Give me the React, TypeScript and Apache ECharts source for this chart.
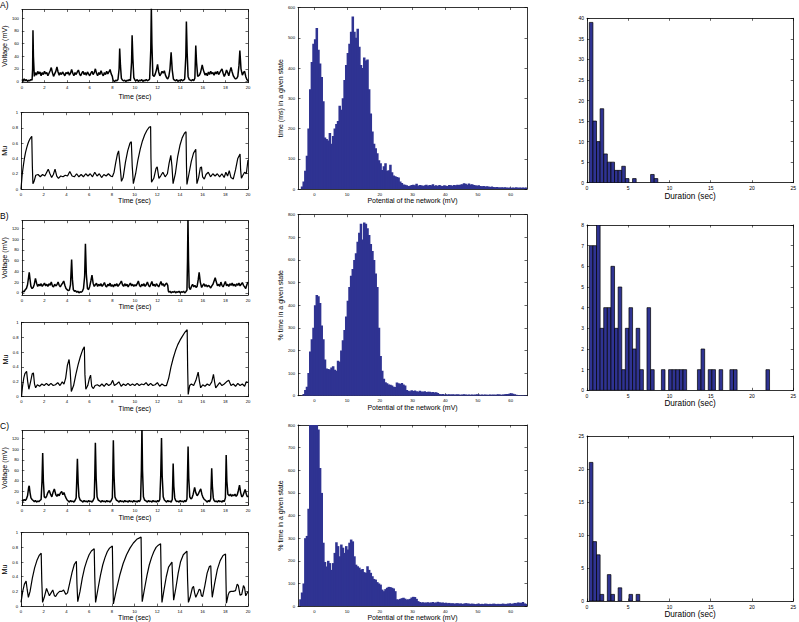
import { useEffect, useRef } from "react";
import * as echarts from "echarts";

// ---------------- DATA ----------------
// Time series: [time (sec), value]
const voltageA: [number, number][] = [
  [0,3],[0.1,1],[0.2,4],[0.3,1],[0.4,3],[0.5,0],[0.6,2],[0.7,1],[0.8,3],[0.9,2],[0.95,20],[0.98,81],[1.02,40],[1.1,8],[1.2,14],[1.3,10],[1.4,16],[1.5,12],[1.6,15],[1.7,9],[1.8,14],[1.9,11],[2.0,16],[2.1,12],[2.2,14],[2.3,9],[2.4,13],[2.5,17],[2.6,22],[2.7,14],[2.8,8],[2.9,12],[3.0,16],[3.1,23],[3.2,15],[3.3,10],[3.4,14],[3.5,11],[3.6,15],[3.7,12],[3.8,9],[3.9,14],[4.0,12],[4.1,15],[4.2,10],[4.3,13],[4.4,19],[4.5,13],[4.6,9],[4.7,14],[4.8,11],[4.9,15],[5.0,18],[5.1,12],[5.2,9],[5.3,13],[5.4,16],[5.5,11],[5.6,14],[5.7,10],[5.8,15],[5.9,12],[6.0,9],[6.1,13],[6.2,16],[6.3,11],[6.4,14],[6.5,20],[6.6,13],[6.7,9],[6.8,14],[6.9,11],[7.0,17],[7.1,12],[7.2,9],[7.3,14],[7.4,11],[7.5,16],[7.6,12],[7.7,15],[7.8,19],[7.9,12],[8.0,8],[8.05,3],[8.1,1],[8.2,0],[8.3,2],[8.4,1],[8.5,3],[8.6,20],[8.65,52],[8.72,25],[8.8,5],[8.9,2],[9.0,1],[9.1,2],[9.2,0],[9.3,2],[9.4,1],[9.5,3],[9.6,1],[9.7,30],[9.75,73],[9.82,35],[9.9,6],[10.0,2],[10.1,1],[10.2,3],[10.3,0],[10.4,2],[10.5,1],[10.6,3],[10.7,0],[10.8,2],[10.9,1],[11.0,3],[11.1,1],[11.2,2],[11.3,4],[11.4,50],[11.45,118],[11.5,60],[11.58,10],[11.7,8],[11.8,12],[11.9,18],[12.0,27],[12.1,15],[12.2,9],[12.3,12],[12.4,16],[12.5,13],[12.6,17],[12.7,10],[12.8,6],[12.9,4],[13.0,8],[13.1,20],[13.2,46],[13.3,18],[13.4,4],[13.5,2],[13.6,1],[13.7,3],[13.8,0],[13.9,2],[14.0,1],[14.1,3],[14.2,1],[14.3,2],[14.4,4],[14.5,40],[14.55,95],[14.62,45],[14.7,8],[14.8,3],[14.9,2],[15.0,1],[15.1,3],[15.2,1],[15.3,5],[15.38,57],[15.45,30],[15.55,8],[15.7,10],[15.8,14],[15.9,22],[15.95,26],[16.05,18],[16.2,10],[16.3,13],[16.4,9],[16.5,15],[16.6,11],[16.7,16],[16.8,12],[16.9,14],[17.0,10],[17.1,15],[17.2,12],[17.3,16],[17.4,11],[17.5,14],[17.6,17],[17.7,20],[17.8,13],[17.9,8],[18.0,12],[18.1,18],[18.2,14],[18.3,9],[18.4,16],[18.5,22],[18.6,15],[18.7,9],[18.8,6],[18.9,4],[19.0,5],[19.1,8],[19.2,25],[19.28,49],[19.38,20],[19.5,10],[19.6,14],[19.7,16],[19.8,8],[19.9,3],[20,1]
];
const muA: [number, number][] = [
  [0,0],[0.1,0.18],[0.2,0.3],[0.3,0.4],[0.4,0.48],[0.5,0.54],[0.6,0.59],[0.7,0.63],[0.8,0.66],[0.95,0.69],[1.0,0.3],[1.05,0.07],[1.15,0.1],[1.3,0.18],[1.5,0.19],[1.7,0.16],[1.9,0.19],[2.1,0.17],[2.2,0.2],[2.4,0.26],[2.55,0.2],[2.7,0.15],[2.85,0.19],[3.0,0.26],[3.15,0.17],[3.3,0.14],[3.5,0.17],[3.7,0.16],[3.9,0.18],[4.1,0.17],[4.3,0.23],[4.5,0.17],[4.7,0.16],[4.9,0.2],[5.1,0.16],[5.3,0.19],[5.5,0.16],[5.7,0.2],[5.9,0.17],[6.1,0.2],[6.3,0.16],[6.5,0.22],[6.7,0.17],[6.9,0.2],[7.1,0.15],[7.3,0.19],[7.5,0.17],[7.7,0.2],[7.9,0.17],[8.05,0.16],[8.2,0.22],[8.35,0.35],[8.5,0.46],[8.6,0.5],[8.7,0.35],[8.85,0.1],[9.0,0.15],[9.2,0.35],[9.4,0.5],[9.6,0.6],[9.72,0.62],[9.8,0.3],[9.9,0.07],[10.1,0.2],[10.3,0.38],[10.5,0.52],[10.7,0.63],[10.9,0.71],[11.1,0.77],[11.3,0.81],[11.42,0.82],[11.45,0.4],[11.5,0.09],[11.7,0.14],[11.9,0.27],[12.0,0.29],[12.15,0.14],[12.3,0.17],[12.5,0.22],[12.7,0.16],[12.9,0.2],[13.05,0.34],[13.2,0.44],[13.3,0.3],[13.4,0.07],[13.6,0.2],[13.8,0.42],[14.0,0.57],[14.2,0.67],[14.4,0.73],[14.54,0.75],[14.58,0.3],[14.62,0.06],[14.8,0.2],[15.0,0.36],[15.2,0.47],[15.4,0.52],[15.45,0.25],[15.5,0.07],[15.65,0.15],[15.8,0.28],[15.9,0.29],[16.0,0.16],[16.15,0.13],[16.3,0.19],[16.5,0.22],[16.7,0.16],[16.9,0.2],[17.1,0.17],[17.3,0.2],[17.5,0.16],[17.7,0.2],[17.9,0.15],[18.05,0.22],[18.2,0.17],[18.35,0.24],[18.5,0.15],[18.7,0.13],[18.9,0.25],[19.1,0.4],[19.3,0.46],[19.35,0.25],[19.42,0.14],[19.55,0.18],[19.7,0.22],[19.85,0.2],[20,0.38]
];
const voltageB: [number, number][] = [
  [0,0],[0.1,3],[0.2,2],[0.3,6],[0.4,8],[0.5,15],[0.6,30],[0.65,38],[0.72,25],[0.8,12],[0.9,8],[1.0,10],[1.1,16],[1.2,27],[1.3,18],[1.4,12],[1.5,16],[1.6,13],[1.7,17],[1.8,12],[1.9,15],[2.0,18],[2.1,13],[2.2,16],[2.3,12],[2.4,17],[2.5,14],[2.6,20],[2.7,13],[2.8,11],[2.9,16],[3.0,13],[3.1,15],[3.2,20],[3.3,14],[3.4,11],[3.5,15],[3.6,18],[3.7,22],[3.8,14],[3.9,8],[4.0,6],[4.1,4],[4.2,5],[4.3,15],[4.4,62],[4.47,25],[4.55,6],[4.65,3],[4.75,4],[4.85,1],[4.95,3],[5.05,0],[5.15,2],[5.25,1],[5.35,3],[5.45,8],[5.55,30],[5.62,91],[5.7,35],[5.8,8],[5.9,6],[6.0,12],[6.1,22],[6.2,33],[6.3,18],[6.4,12],[6.5,15],[6.6,18],[6.7,12],[6.8,16],[6.9,13],[7.0,17],[7.1,12],[7.2,15],[7.3,19],[7.4,13],[7.5,11],[7.6,16],[7.7,13],[7.8,18],[7.9,12],[8.0,15],[8.1,11],[8.2,16],[8.3,13],[8.4,17],[8.5,12],[8.6,15],[8.7,18],[8.8,22],[8.9,15],[9.0,12],[9.1,17],[9.2,13],[9.3,16],[9.4,11],[9.5,15],[9.6,18],[9.7,13],[9.8,16],[9.9,12],[10.0,15],[10.1,13],[10.2,17],[10.3,22],[10.4,14],[10.5,11],[10.6,16],[10.7,13],[10.8,17],[10.9,12],[11.0,15],[11.1,20],[11.2,14],[11.3,11],[11.4,16],[11.5,21],[11.6,13],[11.7,16],[11.8,12],[11.9,17],[12.0,14],[12.1,11],[12.2,16],[12.3,21],[12.4,14],[12.5,17],[12.6,12],[12.7,16],[12.8,18],[12.9,14],[12.95,4],[13.0,1],[13.1,3],[13.2,0],[13.3,2],[13.4,1],[13.5,3],[13.6,0],[13.7,2],[13.8,1],[13.9,3],[14.0,0],[14.1,2],[14.2,1],[14.3,3],[14.4,0],[14.5,2],[14.6,5],[14.65,60],[14.69,140],[14.74,60],[14.8,10],[14.9,6],[15.0,12],[15.1,16],[15.2,11],[15.3,14],[15.4,10],[15.5,12],[15.6,25],[15.68,38],[15.78,20],[15.9,10],[16.0,14],[16.1,17],[16.2,12],[16.3,15],[16.4,11],[16.5,14],[16.6,12],[16.7,9],[16.8,13],[16.9,16],[17.0,22],[17.1,28],[17.2,20],[17.3,13],[17.4,16],[17.5,12],[17.6,20],[17.7,14],[17.8,11],[17.9,16],[18.0,21],[18.1,13],[18.2,16],[18.3,12],[18.4,17],[18.5,14],[18.6,18],[18.7,13],[18.8,16],[18.9,12],[19.0,17],[19.1,14],[19.2,18],[19.3,13],[19.4,16],[19.5,19],[19.6,14],[19.7,11],[19.8,8],[19.9,15],[20,20]
];
const muB: [number, number][] = [
  [0,0],[0.1,0.15],[0.2,0.25],[0.3,0.31],[0.45,0.34],[0.55,0.2],[0.65,0.1],[0.8,0.2],[0.95,0.31],[1.05,0.32],[1.15,0.17],[1.25,0.12],[1.4,0.16],[1.6,0.14],[1.8,0.17],[2.0,0.15],[2.2,0.18],[2.4,0.15],[2.6,0.18],[2.8,0.15],[3.0,0.16],[3.2,0.19],[3.4,0.15],[3.6,0.2],[3.75,0.17],[3.9,0.25],[4.05,0.42],[4.2,0.5],[4.3,0.35],[4.4,0.07],[4.6,0.15],[4.8,0.3],[5.0,0.43],[5.2,0.54],[5.4,0.63],[5.55,0.67],[5.6,0.3],[5.68,0.1],[5.85,0.15],[6.0,0.25],[6.1,0.29],[6.2,0.14],[6.35,0.11],[6.5,0.15],[6.7,0.16],[6.9,0.14],[7.1,0.17],[7.3,0.14],[7.5,0.18],[7.7,0.15],[7.9,0.17],[8.05,0.22],[8.2,0.15],[8.4,0.17],[8.6,0.2],[8.8,0.14],[9.0,0.17],[9.2,0.15],[9.4,0.18],[9.6,0.15],[9.8,0.17],[10.0,0.15],[10.2,0.18],[10.4,0.15],[10.6,0.17],[10.8,0.16],[11.0,0.19],[11.2,0.15],[11.4,0.18],[11.6,0.15],[11.8,0.16],[12.0,0.19],[12.2,0.14],[12.4,0.17],[12.6,0.15],[12.8,0.15],[13.0,0.25],[13.2,0.4],[13.4,0.52],[13.6,0.62],[13.8,0.7],[14.0,0.76],[14.2,0.81],[14.4,0.86],[14.63,0.9],[14.67,0.4],[14.72,0.03],[14.85,0.15],[15.0,0.17],[15.2,0.15],[15.4,0.22],[15.6,0.33],[15.72,0.2],[15.82,0.12],[16.0,0.16],[16.2,0.14],[16.4,0.17],[16.6,0.15],[16.8,0.2],[16.95,0.3],[17.05,0.2],[17.15,0.12],[17.3,0.15],[17.5,0.19],[17.7,0.15],[17.9,0.17],[18.1,0.2],[18.3,0.22],[18.5,0.15],[18.7,0.17],[18.9,0.14],[19.1,0.18],[19.3,0.15],[19.5,0.17],[19.7,0.14],[19.85,0.2],[20,0.19]
];
const voltageC: [number, number][] = [
  [0,4],[0.1,2],[0.2,5],[0.3,3],[0.4,6],[0.5,12],[0.6,28],[0.65,31],[0.72,18],[0.8,8],[0.9,5],[1.0,3],[1.1,1],[1.2,3],[1.3,0],[1.4,2],[1.5,1],[1.6,3],[1.7,5],[1.78,40],[1.84,93],[1.9,40],[1.98,10],[2.1,8],[2.2,12],[2.3,18],[2.42,22],[2.55,14],[2.65,10],[2.75,18],[2.87,25],[3.0,14],[3.1,11],[3.2,15],[3.3,12],[3.4,17],[3.52,20],[3.62,14],[3.72,18],[3.82,12],[3.9,8],[4.0,4],[4.1,2],[4.2,0],[4.3,3],[4.4,1],[4.5,2],[4.6,0],[4.7,3],[4.8,8],[4.85,40],[4.91,82],[4.98,35],[5.05,10],[5.15,4],[5.3,2],[5.4,0],[5.5,3],[5.6,1],[5.7,2],[5.8,0],[5.9,3],[6.0,1],[6.1,2],[6.2,0],[6.3,3],[6.4,8],[6.45,50],[6.5,112],[6.57,45],[6.65,10],[6.75,4],[6.9,2],[7.0,0],[7.1,3],[7.2,1],[7.3,2],[7.4,0],[7.5,3],[7.6,1],[7.7,2],[7.8,0],[7.9,3],[8.0,8],[8.04,50],[8.09,117],[8.15,50],[8.23,10],[8.35,4],[8.5,2],[8.6,0],[8.7,3],[8.8,1],[8.9,2],[9.0,0],[9.1,3],[9.2,1],[9.3,2],[9.4,0],[9.5,3],[9.6,1],[9.7,2],[9.8,0],[9.9,3],[10.0,1],[10.1,2],[10.2,0],[10.3,3],[10.4,1],[10.5,5],[10.57,60],[10.62,145],[10.67,60],[10.75,10],[10.85,4],[11.0,2],[11.1,0],[11.2,3],[11.3,1],[11.4,2],[11.5,0],[11.6,3],[11.7,1],[11.8,2],[11.9,0],[12.0,3],[12.1,1],[12.2,5],[12.28,50],[12.35,121],[12.41,50],[12.5,10],[12.6,4],[12.7,2],[12.8,0],[12.9,3],[13.0,1],[13.1,2],[13.2,0],[13.3,5],[13.34,35],[13.38,73],[13.44,30],[13.52,8],[13.6,3],[13.7,1],[13.8,2],[13.9,0],[14.0,3],[14.1,1],[14.2,2],[14.3,0],[14.4,3],[14.5,1],[14.6,6],[14.65,50],[14.7,105],[14.76,45],[14.85,10],[14.95,6],[15.05,8],[15.15,15],[15.28,28],[15.38,18],[15.5,12],[15.6,15],[15.7,20],[15.82,25],[15.92,15],[16.0,10],[16.1,6],[16.2,4],[16.3,2],[16.4,0],[16.5,3],[16.6,1],[16.7,6],[16.74,30],[16.79,64],[16.85,30],[16.93,8],[17.0,3],[17.1,1],[17.2,2],[17.3,0],[17.4,3],[17.5,1],[17.6,2],[17.7,0],[17.8,3],[17.9,1],[18.0,8],[18.03,40],[18.07,89],[18.13,40],[18.22,15],[18.35,12],[18.45,15],[18.55,11],[18.65,14],[18.75,12],[18.85,15],[18.95,11],[19.05,14],[19.15,22],[19.25,32],[19.35,18],[19.45,10],[19.55,12],[19.65,18],[19.75,24],[19.85,15],[19.95,10],[20,12]
];
const muC: [number, number][] = [
  [0,0.05],[0.15,0.2],[0.3,0.3],[0.45,0.34],[0.55,0.22],[0.65,0.12],[0.8,0.2],[1.0,0.38],[1.2,0.52],[1.4,0.62],[1.6,0.69],[1.78,0.72],[1.83,0.35],[1.9,0.05],[2.05,0.12],[2.25,0.24],[2.4,0.18],[2.5,0.14],[2.65,0.18],[2.8,0.22],[2.95,0.14],[3.05,0.13],[3.2,0.17],[3.4,0.2],[3.6,0.2],[3.75,0.22],[3.95,0.16],[4.1,0.18],[4.3,0.32],[4.5,0.46],[4.7,0.57],[4.88,0.61],[4.93,0.3],[5.0,0.06],[5.2,0.2],[5.4,0.38],[5.6,0.52],[5.8,0.62],[6.0,0.7],[6.2,0.75],[6.45,0.78],[6.5,0.4],[6.57,0.05],[6.8,0.25],[7.0,0.42],[7.2,0.56],[7.4,0.66],[7.6,0.74],[7.8,0.79],[8.05,0.82],[8.09,0.4],[8.14,0.03],[8.4,0.22],[8.7,0.42],[9.0,0.58],[9.3,0.7],[9.6,0.79],[9.9,0.86],[10.2,0.91],[10.58,0.94],[10.62,0.45],[10.68,0.06],[10.9,0.25],[11.1,0.42],[11.3,0.56],[11.5,0.66],[11.7,0.74],[11.9,0.8],[12.1,0.83],[12.3,0.85],[12.35,0.4],[12.42,0.05],[12.6,0.22],[12.8,0.4],[13.0,0.53],[13.3,0.6],[13.38,0.3],[13.45,0.08],[13.65,0.25],[13.85,0.45],[14.05,0.6],[14.3,0.7],[14.62,0.75],[14.68,0.35],[14.75,0.05],[14.9,0.12],[15.1,0.25],[15.2,0.27],[15.3,0.18],[15.4,0.12],[15.55,0.17],[15.7,0.23],[15.8,0.22],[15.9,0.14],[16.0,0.13],[16.2,0.28],[16.4,0.45],[16.6,0.54],[16.72,0.55],[16.78,0.3],[16.85,0.12],[17.05,0.3],[17.3,0.5],[17.55,0.62],[17.8,0.69],[18.02,0.71],[18.06,0.35],[18.1,0.04],[18.25,0.15],[18.35,0.19],[18.5,0.2],[18.7,0.2],[18.9,0.21],[19.05,0.3],[19.15,0.28],[19.3,0.15],[19.45,0.16],[19.6,0.28],[19.7,0.25],[19.8,0.14],[20,0.2]
];

// Potential histograms: bins of 0.5 mV starting at -5 mV
const potentialBinStart = -5;
const potentialBinWidth = 0.5;
const potentialHistA = [
  0,0,8,25,60,110,200,330,420,480,
  495,532,460,415,370,290,170,165,160,185,
  150,175,200,215,225,275,262,300,360,410,
  450,480,520,570,520,500,530,470,410,400,
  435,425,428,330,250,190,150,135,118,95,
  85,63,75,85,60,62,80,55,45,42,
  40,38,25,20,15,14,12,10,11,13,
  14,12,17,11,13,12,10,12,14,11,
  13,12,16,11,12,10,13,11,10,12,
  11,10,13,12,11,13,12,14,13,15,
  16,19,17,14,18,15,16,13,12,11,
  12,10,9,10,8,9,8,7,8,7,
  6,7,6,5,6,5,6,5,4,5,
  4,5,4,6,4,5,4,5,4,5
];
const potentialHistB = [
  0,0,0,8,25,40,100,195,250,300,
  400,445,440,410,310,250,160,120,118,116,
  125,130,115,110,155,150,200,245,290,350,
  420,480,530,560,600,630,680,720,760,690,
  765,760,740,710,670,640,600,540,480,300,
  175,110,75,60,55,50,48,45,40,38,
  58,55,52,56,50,45,25,22,20,24,
  21,23,20,18,22,19,17,20,16,18,
  17,15,16,14,15,12,8,6,7,5,
  6,5,6,5,6,5,5,6,5,4,
  5,6,5,4,5,4,5,4,5,6,
  5,4,5,4,5,4,4,5,4,5,
  4,5,6,5,4,5,6,7,8,10,
  11,9,6,4,3,3,2,2,2,2
];
const potentialHistC = [
  0,30,60,100,300,310,430,900,900,900,
  900,900,780,610,500,280,195,175,200,190,
  160,190,235,282,265,220,272,258,235,265,
  250,280,294,286,220,183,176,170,161,164,
  150,147,176,160,147,132,120,117,106,100,
  95,73,66,75,81,85,84,81,78,66,
  30,29,32,35,37,33,29,30,32,38,
  41,40,32,22,18,16,17,15,16,17,
  15,16,18,15,16,19,17,15,16,14,
  15,13,14,12,13,11,12,13,11,12,
  10,11,13,12,11,10,11,10,9,10,
  11,9,10,9,11,10,9,10,9,11,
  10,9,10,9,10,11,9,10,11,12,
  10,11,14,13,16,15,14,18,12,10
];

// Duration histograms: 50 bins starting at 0.28 s, width 0.437 s
const durationBinStart = 0.28;
const durationBinWidth = 0.437;
const durationCountsA = [39,15,10,18,7,5,5,3,3,4,1,0,1,0,0,0,0,2,1];
const durationCountsB = [7,7,8,3,4,4,6,3,5,1,3,4,2,3,1,0,4,1,0,0,1,0,1,1,1,1,1,0,0,0,1,2,0,1,1,0,1,0,0,1,1,0,0,0,0,0,0,0,0,1];
const durationCountsC = [21,9,7,1,0,4,1,0,2,0,0,1,0,1];

// Tick values
const timeTicks = [0,2,4,6,8,10,12,14,16,18,20];
const voltageTicksA = [0,20,40,60,80,100];
const voltageTicksBC = [0,20,40,60,80,100,120];
const muTicks = [0,0.2,0.4,0.6,0.8,1];
const potentialTicks = [0,10,20,30,40,50,60];
const stateTicksA = [0,100,200,300,400,500,600];
const stateTicksBC = [0,100,200,300,400,500,600,700,800];
const durationTicks = [0,5,10,15,20,25];
const countTicksA = [0,5,10,15,20,25,30,35,40];
const countTicksB = [0,1,2,3,4,5,6,7,8];
const countTicksC = [0,5,10,15,20,25];

const panelLabels = ["A)", "B)", "C)"];

// ---------------- STYLE / LAYOUT ----------------
const FONT = "'Liberation Sans', Arial, Helvetica, sans-serif";
const HIST_COLOR = "#2f3392";

type AxisSpec = {
  min: number; max: number; ticks: number[];
  name?: string; nameGap?: number; nameSize?: number; labelSize: number;
};
type Panel = {
  box: [number, number, number, number];
  x: AxisSpec; y: AxisSpec;
  kind: "volt" | "mu" | "hist" | "dur";
  data: any;
};

function histItems(start: number, width: number, values: number[]) {
  return values.map((v, i) => [start + i * width, start + (i + 1) * width, v]);
}

function makePanels(): Panel[] {
  const rows = [
    { v: voltageA, mu: muA, h: potentialHistA, d: durationCountsA, vMin: -2, vMax: 114, vTicks: voltageTicksA,
      hMax: 600, hTicks: stateTicksA, hName: "time (ms) in a given state", dMax: 40, dTicks: countTicksA,
      vBox: [21, 9.5, 227, 73.2], muBox: [21, 112.7, 227, 76.3], hBox: [298, 7.5, 229, 181.5], dBox: [587, 18.3, 208, 164.4],
      vGap: 10.5, muGap: 7.5 },
    { v: voltageB, mu: muB, h: potentialHistB, d: durationCountsB, vMin: -4, vMax: 134, vTicks: voltageTicksBC,
      hMax: 800, hTicks: stateTicksBC, hName: "% time in a given state", dMax: 8, dTicks: countTicksB,
      vBox: [21.5, 220.7, 226.5, 74.3], muBox: [21.5, 322.3, 226.5, 74.4], hBox: [298, 214.7, 229, 181], dBox: [587, 225, 208, 165.3],
      vGap: 7, muGap: 6.5 },
    { v: voltageC, mu: muC, h: potentialHistC, d: durationCountsC, vMin: -6, vMax: 135, vTicks: voltageTicksBC,
      hMax: 800, hTicks: stateTicksBC, hName: "% time in a given state", dMax: 25, dTicks: countTicksC,
      vBox: [21, 430.7, 227, 74.6], muBox: [21, 532.7, 227, 75], hBox: [298, 425, 229, 181.7], dBox: [587, 436, 208, 165],
      vGap: 8.5, muGap: 6.5 },
  ];
  const panels: Panel[] = [];
  rows.forEach((r) => {
    panels.push({
      box: r.vBox as any, kind: "volt", data: r.v,
      x: { min: 0, max: 20, ticks: timeTicks, name: "Time (sec)", nameGap: r.vGap, nameSize: 7, labelSize: 4.2 },
      y: { min: r.vMin, max: r.vMax, ticks: r.vTicks, name: "Voltage (mV)", nameGap: 12, nameSize: 7.2, labelSize: 4.2 },
    });
    panels.push({
      box: r.muBox as any, kind: "mu", data: r.mu,
      x: { min: 0, max: 20, ticks: timeTicks, name: "Time (sec)", nameGap: r.muGap, nameSize: 7, labelSize: 4.2 },
      y: { min: 0, max: 1, ticks: muTicks, name: "Mu", nameGap: 11, nameSize: 7.2, labelSize: 4.2 },
    });
    panels.push({
      box: r.hBox as any, kind: "hist", data: histItems(potentialBinStart, potentialBinWidth, r.h),
      x: { min: -5, max: 65, ticks: potentialTicks, name: "Potential of the network (mV)", nameGap: 7.5, nameSize: 7, labelSize: 4.2 },
      y: { min: 0, max: r.hMax, ticks: r.hTicks, name: r.hName, nameGap: 14, nameSize: 7, labelSize: 4.2 },
    });
    panels.push({
      box: r.dBox as any, kind: "dur", data: histItems(durationBinStart, durationBinWidth, r.d),
      x: { min: 0, max: 25, ticks: durationTicks, name: "Duration (sec)", nameGap: 9.5, nameSize: 8.2, labelSize: 5 },
      y: { min: 0, max: r.dMax, ticks: r.dTicks, labelSize: 5 },
    });
  });
  return panels;
}

function axisDef(dim: "x" | "y", gi: number, a: AxisSpec, mirror: boolean) {
  return {
    type: "value",
    gridIndex: gi,
    min: a.min,
    max: a.max,
    position: dim === "x" ? (mirror ? "top" : "bottom") : (mirror ? "right" : "left"),
    axisLine: { show: true, onZero: false, lineStyle: { color: "#000", width: 0.8 } },
    axisTick: { show: true, inside: true, length: 2.5, customValues: a.ticks, lineStyle: { color: "#000", width: 0.6 } },
    axisLabel: mirror
      ? { show: false }
      : { show: true, customValues: a.ticks, fontSize: a.labelSize, color: "#000", fontFamily: FONT, margin: 3 },
    splitLine: { show: false },
    name: mirror ? "" : a.name || "",
    nameLocation: "middle",
    nameGap: a.nameGap ?? 10,
    nameTextStyle: { fontSize: a.nameSize ?? 7, color: "#000", fontFamily: FONT },
  };
}

// pad: extra px on each side (used to close anti-aliasing seams between adjacent bars)
function histRenderer(fill: string, stroke: string | undefined, lw: number, pad: number) {
  return (params: any, api: any) => {
    const x0 = api.value(0);
    const x1 = api.value(1);
    const v = api.value(2);
    if (!v) return { type: "group", children: [] };
    const p0 = api.coord([x0, v]);
    const p1 = api.coord([x1, 0]);
    const cs = params.coordSys;
    const shape = echarts.graphic.clipRectByRect(
      { x: p0[0] - pad, y: p0[1], width: p1[0] - p0[0] + 2 * pad, height: p1[1] - p0[1] },
      { x: cs.x, y: cs.y, width: cs.width, height: cs.height }
    );
    if (!shape) return { type: "group", children: [] };
    const style: any = { fill };
    if (stroke) { style.stroke = stroke; style.lineWidth = lw; }
    return { type: "rect", shape, style };
  };
}

export default function App() {
  const ref = useRef<HTMLDivElement>(null);
  useEffect(() => {
    if (!ref.current) return;
    const chart = echarts.init(ref.current, undefined, { renderer: "svg" });
    const panels = makePanels();
    const grid: any[] = [];
    const xAxis: any[] = [];
    const yAxis: any[] = [];
    const series: any[] = [];
    panels.forEach((p, i) => {
      grid.push({ left: p.box[0], top: p.box[1], width: p.box[2], height: p.box[3], containLabel: false });
      xAxis.push(axisDef("x", i, p.x, false));
      xAxis.push(axisDef("x", i, p.x, true));
      yAxis.push(axisDef("y", i, p.y, false));
      yAxis.push(axisDef("y", i, p.y, true));
      if (p.kind === "volt" || p.kind === "mu") {
        series.push({
          type: "line", xAxisIndex: 2 * i, yAxisIndex: 2 * i, data: p.data,
          showSymbol: false, symbol: "none", clip: true,
          lineStyle: { color: "#000", width: p.kind === "volt" ? 1.5 : 1.2 }, silent: true,
        });
      } else {
        const isHist = p.kind === "hist";
        series.push({
          type: "custom", xAxisIndex: 2 * i, yAxisIndex: 2 * i, data: p.data,
          encode: { x: [0, 1], y: 2 }, clip: true, silent: true,
          renderItem: isHist ? histRenderer(HIST_COLOR, undefined, 0, 0.45) : histRenderer(HIST_COLOR, "#000", 0.7, 0),
        });
      }
    });
    const graphic = panelLabels.map((t, i) => ({
      type: "text",
      left: 0,
      top: [0, 211, 421][i],
      style: { text: t, fontSize: 8.5, fill: "#000", fontFamily: FONT },
    }));
    chart.setOption({
      animation: false,
      backgroundColor: "#fff",
      grid, xAxis, yAxis, series, graphic,
    });
    return () => chart.dispose();
  }, []);
  return (
    <div
      ref={ref}
      style={{ position: "fixed", left: 0, top: 0, width: 799, height: 622, background: "#fff" }}
    />
  );
}
